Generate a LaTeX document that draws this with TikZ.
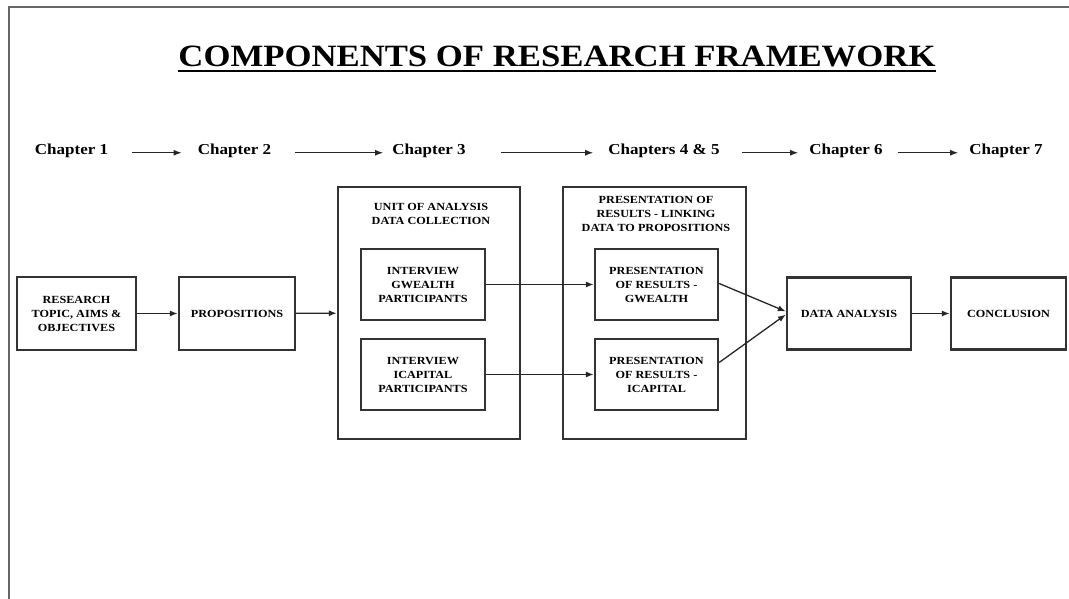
\documentclass[tikz,border=0pt]{standalone}
\usepackage{fontspec}
\setmainfont{Liberation Serif}[FakeStretch=1.12]
\usetikzlibrary{arrows.meta}
\newcommand\bxfont{\fontsize{10.9}{14}\selectfont\bfseries}
\newcommand\chfont{\fontsize{15.2}{18}\selectfont\bfseries}
\begin{document}
\begin{tikzpicture}[x=1pt,y=-1pt,
  box/.style={draw=black!80,line width=2.3pt,rectangle,inner sep=0pt,
              align=center,font=\bxfont},
  head/.style={inner sep=0pt,align=center,font=\bxfont},
  chap/.style={inner sep=0pt,font=\chfont,text height=9pt,text depth=4.5pt,anchor=base},
  arr/.style={draw=black!85,line width=1.3pt,-{Latex[length=8pt,width=6pt]}},
  frameline/.style={draw=black!60,line width=2.2pt}]
\useasboundingbox (0,0) rectangle (1069,599);
\fill[white] (0,0) rectangle (1069,599);

% page frame (top and left edges)
\coordinate (fl) at (9,599);
\coordinate (fc) at (9,7);
\coordinate (fr) at (1069,7);
\draw[frameline] (fl) -- (fc) -- (fr);

% title
\node[inner sep=0pt,anchor=base,font=\fontsize{31}{36}\selectfont\bfseries]
  (title) at (557,67) {COMPONENTS OF RESEARCH FRAMEWORK};
\draw[line width=2.2pt] ([yshift=-4pt]title.base west) -- ([yshift=-4pt]title.base east);

% chapter row
\node[chap] (c1)  at (71.5,155) {Chapter 1};
\node[chap] (c2)  at (234.5,155) {Chapter 2};
\node[chap] (c3)  at (429,155) {Chapter 3};
\node[chap] (c45) at (664,155) {Chapters 4 \& 5};
\node[chap] (c6)  at (846,155) {Chapter 6};
\node[chap] (c7)  at (1006,155) {Chapter 7};
\draw[arr,shorten <=24pt,shorten >=16pt] (c1) -- (c2);
\draw[arr,shorten <=24pt,shorten >=9pt]  (c2) -- (c3);
\draw[arr,shorten <=35pt,shorten >=15pt] (c3) -- (c45);
\draw[arr,shorten <=22pt,shorten >=11pt] (c45) -- (c6);
\draw[arr,shorten <=15pt,shorten >=11pt] (c6) -- (c7);

% main flow
\node[box,minimum width=119pt,minimum height=73pt] (rt) at (76.5,313.5)
  {RESEARCH\\TOPIC, AIMS \&\\OBJECTIVES};
\node[box,minimum width=116pt,minimum height=73pt] (pr) at (237,313.5) {PROPOSITIONS};

\node[box,minimum width=182pt,minimum height=252pt] (ua) at (429,313) {};
\node[head] (uah) at (431,214) {UNIT OF ANALYSIS\\DATA COLLECTION};
\node[box,minimum width=124pt,minimum height=71pt] (ig) at (423,284.5)
  {INTERVIEW\\GWEALTH\\PARTICIPANTS};
\node[box,minimum width=124pt,minimum height=71pt] (ic) at (423,374.5)
  {INTERVIEW\\ICAPITAL\\PARTICIPANTS};

\node[box,minimum width=183pt,minimum height=252pt] (pl) at (654.5,313) {};
\node[head] (plh) at (656,214) {PRESENTATION OF\\RESULTS - LINKING\\DATA TO PROPOSITIONS};
\node[box,minimum width=123pt,minimum height=71pt] (pg) at (656.5,284.5)
  {PRESENTATION\\OF RESULTS -\\GWEALTH};
\node[box,minimum width=123pt,minimum height=71pt] (pc) at (656.5,374.5)
  {PRESENTATION\\OF RESULTS -\\ICAPITAL};

\node[box,minimum width=124pt,minimum height=72pt] (da) at (849,313.5) {DATA ANALYSIS};
\node[box,minimum width=115pt,minimum height=72pt] (co) at (1008.5,313.5) {CONCLUSION};

% connectors
\draw[arr] (rt) -- (pr);
\draw[arr] (pr) -- (ua);
\draw[arr] (ig) -- (pg);
\draw[arr] (ic) -- (pc);
\draw[arr] ([yshift=1pt]pg.east) -- ([yshift=2pt]da.west);
\draw[arr] ([yshift=12pt]pc.east) -- ([yshift=-1pt]da.west);
\draw[arr] (da) -- (co);
\end{tikzpicture}
\end{document}
